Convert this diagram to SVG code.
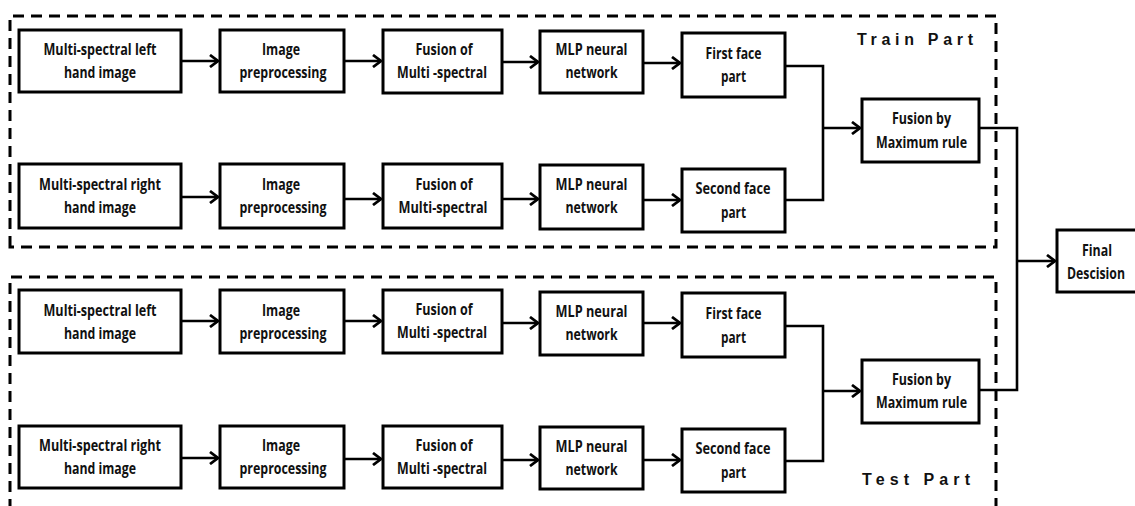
<svg xmlns="http://www.w3.org/2000/svg" width="1135" height="506" viewBox="0 0 1135 506">
<style>
.box{fill:#fff;stroke:#000;stroke-width:3}
.t{font-family:"Open Sans","Liberation Sans",sans-serif;font-weight:700;font-size:16px;fill:#111;text-anchor:middle}
.lbl{font-family:"Liberation Sans",Arial,sans-serif;font-weight:700;font-size:16px;fill:#111}
.dash{fill:none;stroke:#000;stroke-width:3;stroke-dasharray:11 7}
.c{fill:none;stroke:#000;stroke-width:2.6}
.a{fill:none;stroke:#000;stroke-width:2.6;marker-end:url(#arr)}
</style>
<defs>
<marker id="arr" viewBox="0 0 14 14" refX="11" refY="7" markerWidth="14" markerHeight="14" markerUnits="userSpaceOnUse" orient="auto">
<path d="M3,1 L11,7 L3,13" fill="none" stroke="#000" stroke-width="2.8"/>
</marker>
</defs>
<rect width="1135" height="506" fill="#fff"/>

<g id="train-part">
<path class="dash" d="M10,247 L10,16 L996,16 L996,247 Z"/>
<text class="lbl" x="857" y="45" textLength="116" lengthAdjust="spacing">Train Part</text>
</g>
<g id="test-part">
<path class="dash" d="M10,510 L10,277 L996,277 L996,510"/>
<text class="lbl" x="862" y="485" textLength="108" lengthAdjust="spacing">Test Part</text>
</g>

<g id="connectors">
<line class="a" x1="181" y1="61" x2="218" y2="61"/>
<line class="a" x1="344" y1="61" x2="381" y2="61"/>
<line class="a" x1="502" y1="62" x2="538" y2="62"/>
<line class="a" x1="643" y1="63" x2="680" y2="63"/>
<line class="a" x1="181" y1="197" x2="218" y2="197"/>
<line class="a" x1="344" y1="199" x2="381" y2="199"/>
<line class="a" x1="502" y1="199" x2="538" y2="199"/>
<line class="a" x1="643" y1="200" x2="680" y2="200"/>
<line class="a" x1="181" y1="321" x2="218" y2="321"/>
<line class="a" x1="344" y1="321" x2="381" y2="321"/>
<line class="a" x1="502" y1="323" x2="538" y2="323"/>
<line class="a" x1="643" y1="323" x2="680" y2="323"/>
<line class="a" x1="181" y1="458" x2="218" y2="458"/>
<line class="a" x1="344" y1="459" x2="381" y2="459"/>
<line class="a" x1="502" y1="460" x2="538" y2="460"/>
<line class="a" x1="643" y1="460" x2="680" y2="460"/>
<path class="c" d="M785,66 L823,66 L823,200 L785,200"/>
<line class="a" x1="823" y1="128" x2="860" y2="128"/>
<path class="c" d="M785,326 L823,326 L823,461 L785,461"/>
<line class="a" x1="823" y1="391" x2="860" y2="391"/>
<path class="c" d="M979,128 L1017,128 L1017,390 L979,390"/>
<line class="a" x1="1017" y1="261" x2="1055" y2="261"/>
</g>

<g id="tr1-input"><rect class="box" x="19" y="30" width="162" height="62"/>
<text class="t" x="100" y="55" textLength="113" lengthAdjust="spacingAndGlyphs">Multi-spectral left</text>
<text class="t" x="100" y="78" textLength="72" lengthAdjust="spacingAndGlyphs">hand image</text></g>
<g id="tr1-pre"><rect class="box" x="220" y="30" width="124" height="62"/>
<text class="t" x="281" y="55" textLength="38" lengthAdjust="spacingAndGlyphs">Image</text>
<text class="t" x="283" y="78" textLength="87" lengthAdjust="spacingAndGlyphs">preprocessing</text></g>
<g id="tr1-fusion"><rect class="box" x="383" y="30" width="119" height="63"/>
<text class="t" x="444" y="54.5" textLength="57" lengthAdjust="spacingAndGlyphs">Fusion of</text>
<text class="t" x="442" y="77.5" textLength="90" lengthAdjust="spacingAndGlyphs">Multi -spectral</text></g>
<g id="tr1-mlp"><rect class="box" x="540" y="31" width="103" height="62"/>
<text class="t" x="591.5" y="54.5" textLength="72" lengthAdjust="spacingAndGlyphs">MLP neural</text>
<text class="t" x="591.5" y="77.5" textLength="52" lengthAdjust="spacingAndGlyphs">network</text></g>
<g id="tr1-face"><rect class="box" x="682" y="33" width="103" height="64"/>
<text class="t" x="733.5" y="58.5" textLength="56" lengthAdjust="spacingAndGlyphs">First face</text>
<text class="t" x="733.5" y="81.5" textLength="25" lengthAdjust="spacingAndGlyphs">part</text></g>

<g id="tr2-input"><rect class="box" x="19" y="164" width="162" height="64"/>
<text class="t" x="100" y="189.5" textLength="122" lengthAdjust="spacingAndGlyphs">Multi-spectral right</text>
<text class="t" x="100" y="213" textLength="72" lengthAdjust="spacingAndGlyphs">hand image</text></g>
<g id="tr2-pre"><rect class="box" x="220" y="164" width="124" height="64"/>
<text class="t" x="281" y="189.5" textLength="38" lengthAdjust="spacingAndGlyphs">Image</text>
<text class="t" x="283" y="213" textLength="87" lengthAdjust="spacingAndGlyphs">preprocessing</text></g>
<g id="tr2-fusion"><rect class="box" x="383" y="164" width="119" height="64"/>
<text class="t" x="444" y="189.5" textLength="57" lengthAdjust="spacingAndGlyphs">Fusion of</text>
<text class="t" x="443" y="213" textLength="89" lengthAdjust="spacingAndGlyphs">Multi-spectral</text></g>
<g id="tr2-mlp"><rect class="box" x="540" y="165" width="103" height="64"/>
<text class="t" x="591.5" y="189.5" textLength="72" lengthAdjust="spacingAndGlyphs">MLP neural</text>
<text class="t" x="591.5" y="213" textLength="52" lengthAdjust="spacingAndGlyphs">network</text></g>
<g id="tr2-face"><rect class="box" x="682" y="169" width="103" height="63"/>
<text class="t" x="733" y="193.5" textLength="75" lengthAdjust="spacingAndGlyphs">Second face</text>
<text class="t" x="733.5" y="217.5" textLength="25" lengthAdjust="spacingAndGlyphs">part</text></g>

<g id="tr-maxfusion"><rect class="box" x="862" y="99" width="117" height="63"/>
<text class="t" x="921.5" y="123.5" textLength="59" lengthAdjust="spacingAndGlyphs">Fusion by</text>
<text class="t" x="921.5" y="147.5" textLength="91" lengthAdjust="spacingAndGlyphs">Maximum rule</text></g>

<g id="te1-input"><rect class="box" x="19" y="290" width="162" height="63"/>
<text class="t" x="100" y="315.5" textLength="113" lengthAdjust="spacingAndGlyphs">Multi-spectral left</text>
<text class="t" x="100" y="338.5" textLength="72" lengthAdjust="spacingAndGlyphs">hand image</text></g>
<g id="te1-pre"><rect class="box" x="220" y="290" width="124" height="63"/>
<text class="t" x="281" y="315.5" textLength="38" lengthAdjust="spacingAndGlyphs">Image</text>
<text class="t" x="283" y="338.5" textLength="87" lengthAdjust="spacingAndGlyphs">preprocessing</text></g>
<g id="te1-fusion"><rect class="box" x="383" y="290" width="119" height="63"/>
<text class="t" x="444" y="314.5" textLength="57" lengthAdjust="spacingAndGlyphs">Fusion of</text>
<text class="t" x="442" y="337.5" textLength="90" lengthAdjust="spacingAndGlyphs">Multi -spectral</text></g>
<g id="te1-mlp"><rect class="box" x="540" y="292" width="103" height="63"/>
<text class="t" x="591.5" y="316.5" textLength="72" lengthAdjust="spacingAndGlyphs">MLP neural</text>
<text class="t" x="591.5" y="339.5" textLength="52" lengthAdjust="spacingAndGlyphs">network</text></g>
<g id="te1-face"><rect class="box" x="682" y="293" width="103" height="64"/>
<text class="t" x="733.5" y="318.5" textLength="56" lengthAdjust="spacingAndGlyphs">First face</text>
<text class="t" x="733.5" y="342.5" textLength="25" lengthAdjust="spacingAndGlyphs">part</text></g>

<g id="te2-input"><rect class="box" x="19" y="426" width="162" height="62"/>
<text class="t" x="100" y="450.5" textLength="122" lengthAdjust="spacingAndGlyphs">Multi-spectral right</text>
<text class="t" x="100" y="473.5" textLength="72" lengthAdjust="spacingAndGlyphs">hand image</text></g>
<g id="te2-pre"><rect class="box" x="220" y="426" width="124" height="62"/>
<text class="t" x="281" y="450.5" textLength="38" lengthAdjust="spacingAndGlyphs">Image</text>
<text class="t" x="283" y="473.5" textLength="87" lengthAdjust="spacingAndGlyphs">preprocessing</text></g>
<g id="te2-fusion"><rect class="box" x="383" y="426" width="119" height="62"/>
<text class="t" x="444" y="450.5" textLength="57" lengthAdjust="spacingAndGlyphs">Fusion of</text>
<text class="t" x="442" y="473.5" textLength="90" lengthAdjust="spacingAndGlyphs">Multi -spectral</text></g>
<g id="te2-mlp"><rect class="box" x="540" y="427" width="103" height="62"/>
<text class="t" x="591.5" y="451.5" textLength="72" lengthAdjust="spacingAndGlyphs">MLP neural</text>
<text class="t" x="591.5" y="474.5" textLength="52" lengthAdjust="spacingAndGlyphs">network</text></g>
<g id="te2-face"><rect class="box" x="682" y="429" width="103" height="63"/>
<text class="t" x="733" y="453.5" textLength="75" lengthAdjust="spacingAndGlyphs">Second face</text>
<text class="t" x="733.5" y="477.5" textLength="25" lengthAdjust="spacingAndGlyphs">part</text></g>

<g id="te-maxfusion"><rect class="box" x="862" y="360" width="117" height="63"/>
<text class="t" x="921.5" y="384.5" textLength="59" lengthAdjust="spacingAndGlyphs">Fusion by</text>
<text class="t" x="921.5" y="407.5" textLength="91" lengthAdjust="spacingAndGlyphs">Maximum rule</text></g>

<g id="final"><rect class="box" x="1057" y="230" width="84" height="62"/>
<text class="t" x="1097" y="255.5" textLength="30" lengthAdjust="spacingAndGlyphs">Final</text>
<text class="t" x="1096" y="278.5" textLength="58" lengthAdjust="spacingAndGlyphs">Descision</text></g>
</svg>
